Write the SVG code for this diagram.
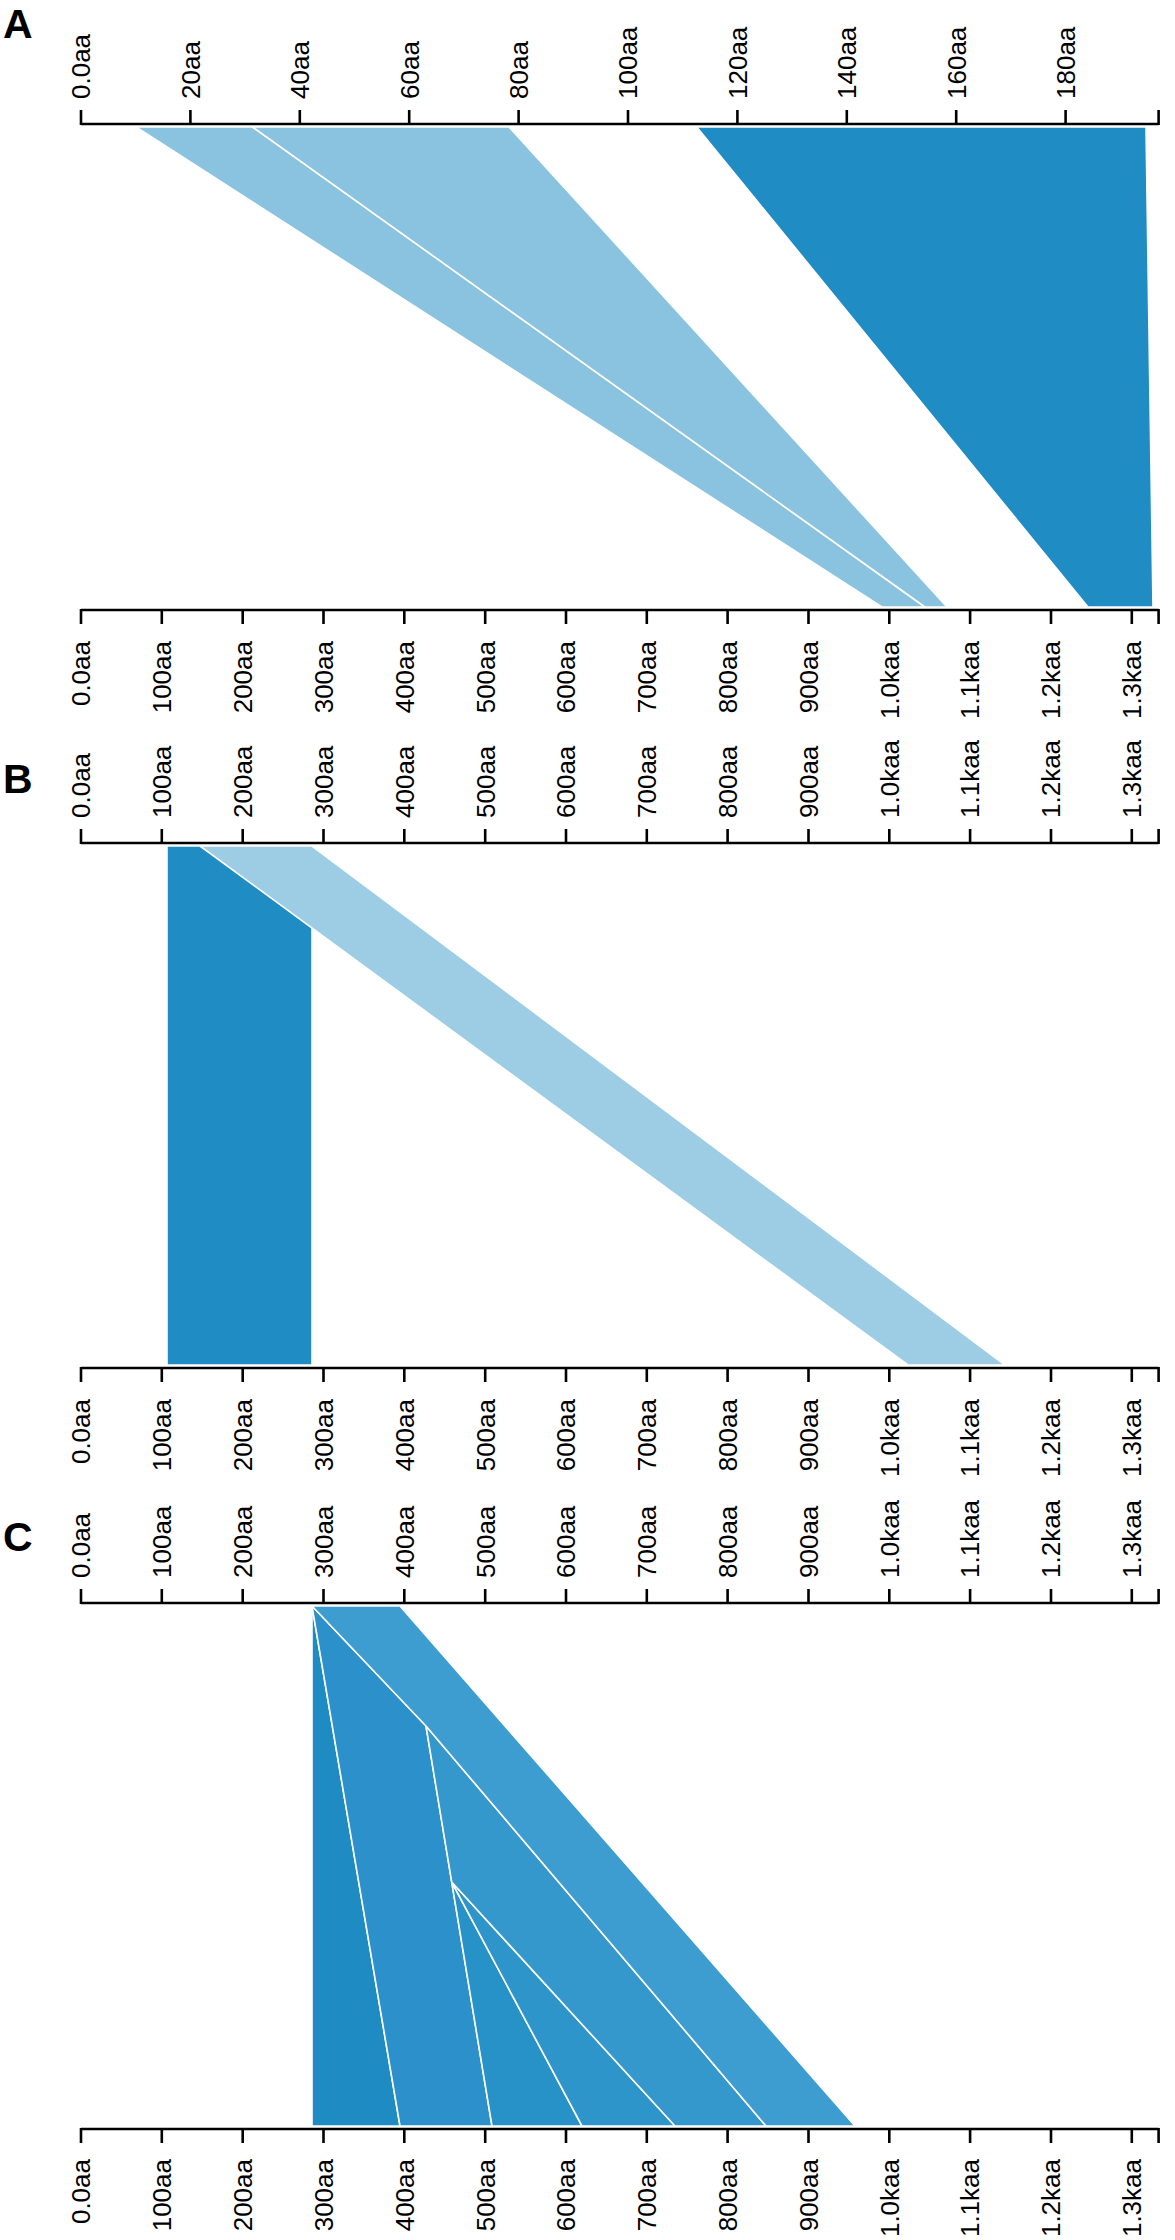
<svg xmlns="http://www.w3.org/2000/svg" width="1175" height="2240" viewBox="0 0 1175 2240">
<style>
.ax{stroke:#000;stroke-width:2.6;fill:none}
.l{font-family:"Liberation Sans",Arial,sans-serif;font-size:26px;fill:#000}
.t{text-anchor:start}
.b{text-anchor:end}
.pl{font-family:"Liberation Sans",Arial,sans-serif;font-size:41px;font-weight:bold;fill:#000}
.seg{stroke:#fff;stroke-width:1.6;stroke-linejoin:round}
</style>
<rect width="1175" height="2240" fill="#fff"/>

<!-- Panel A -->
<g id="panelA">
<text class="pl" x="3" y="38">A</text>
<g id="A-top-axis">
<path class="ax" d="M81,124H1158.6M81,110V125M190.4,110V125M299.8,110V125M409.2,110V125M518.6,110V125M628,110V125M737.4,110V125M846.8,110V125M956.2,110V125M1065.6,110V125M1158.6,110V125"/>
<g class="l t">
<text transform="translate(90.3,99) rotate(-90)">0.0aa</text>
<text transform="translate(199.7,99) rotate(-90)">20aa</text>
<text transform="translate(309.1,99) rotate(-90)">40aa</text>
<text transform="translate(418.5,99) rotate(-90)">60aa</text>
<text transform="translate(527.9,99) rotate(-90)">80aa</text>
<text transform="translate(637.3,99) rotate(-90)">100aa</text>
<text transform="translate(746.7,99) rotate(-90)">120aa</text>
<text transform="translate(856.1,99) rotate(-90)">140aa</text>
<text transform="translate(965.5,99) rotate(-90)">160aa</text>
<text transform="translate(1074.9,99) rotate(-90)">180aa</text>
</g>
</g>
<g id="A-bottom-axis">
<path class="ax" d="M81,610H1158.6M81,609V624M161.8,609V624M242.7,609V624M323.5,609V624M404.3,609V624M485.2,609V624M566,609V624M646.8,609V624M727.6,609V624M808.5,609V624M889.3,609V624M970.1,609V624M1051,609V624M1131.8,609V624M1158.6,609V624"/>
<g class="l b">
<text transform="translate(90.3,641) rotate(-90)">0.0aa</text>
<text transform="translate(171.1,641) rotate(-90)">100aa</text>
<text transform="translate(252,641) rotate(-90)">200aa</text>
<text transform="translate(332.8,641) rotate(-90)">300aa</text>
<text transform="translate(413.6,641) rotate(-90)">400aa</text>
<text transform="translate(494.5,641) rotate(-90)">500aa</text>
<text transform="translate(575.3,641) rotate(-90)">600aa</text>
<text transform="translate(656.1,641) rotate(-90)">700aa</text>
<text transform="translate(736.9,641) rotate(-90)">800aa</text>
<text transform="translate(817.8,641) rotate(-90)">900aa</text>
<text transform="translate(898.6,641) rotate(-90)">1.0kaa</text>
<text transform="translate(979.4,641) rotate(-90)">1.1kaa</text>
<text transform="translate(1060.3,641) rotate(-90)">1.2kaa</text>
<text transform="translate(1141.1,641) rotate(-90)">1.3kaa</text>
</g>
</g>
<g id="A-links">
<polygon class="seg" fill="#8ac3e0" points="136,127 252.6,127 925,607 882,607"/>
<polygon class="seg" fill="#8ac3e0" points="252.6,127 509,127 947,607 925,607"/>
<polygon class="seg" fill="#1f8cc4" points="696.7,127 1146,127 1153,607 1088,607"/>
</g>
</g>

<!-- Panel B -->
<g id="panelB">
<text class="pl" x="3" y="793">B</text>
<g id="B-top-axis">
<path class="ax" d="M81,843H1158.6M81,829V844M161.8,829V844M242.7,829V844M323.5,829V844M404.3,829V844M485.2,829V844M566,829V844M646.8,829V844M727.6,829V844M808.5,829V844M889.3,829V844M970.1,829V844M1051,829V844M1131.8,829V844M1158.6,829V844"/>
<g class="l t">
<text transform="translate(90.3,818) rotate(-90)">0.0aa</text>
<text transform="translate(171.1,818) rotate(-90)">100aa</text>
<text transform="translate(252,818) rotate(-90)">200aa</text>
<text transform="translate(332.8,818) rotate(-90)">300aa</text>
<text transform="translate(413.6,818) rotate(-90)">400aa</text>
<text transform="translate(494.5,818) rotate(-90)">500aa</text>
<text transform="translate(575.3,818) rotate(-90)">600aa</text>
<text transform="translate(656.1,818) rotate(-90)">700aa</text>
<text transform="translate(736.9,818) rotate(-90)">800aa</text>
<text transform="translate(817.8,818) rotate(-90)">900aa</text>
<text transform="translate(898.6,818) rotate(-90)">1.0kaa</text>
<text transform="translate(979.4,818) rotate(-90)">1.1kaa</text>
<text transform="translate(1060.3,818) rotate(-90)">1.2kaa</text>
<text transform="translate(1141.1,818) rotate(-90)">1.3kaa</text>
</g>
</g>
<g id="B-bottom-axis">
<path class="ax" d="M81,1368H1158.6M81,1367V1382M161.8,1367V1382M242.7,1367V1382M323.5,1367V1382M404.3,1367V1382M485.2,1367V1382M566,1367V1382M646.8,1367V1382M727.6,1367V1382M808.5,1367V1382M889.3,1367V1382M970.1,1367V1382M1051,1367V1382M1131.8,1367V1382M1158.6,1367V1382"/>
<g class="l b">
<text transform="translate(90.3,1399) rotate(-90)">0.0aa</text>
<text transform="translate(171.1,1399) rotate(-90)">100aa</text>
<text transform="translate(252,1399) rotate(-90)">200aa</text>
<text transform="translate(332.8,1399) rotate(-90)">300aa</text>
<text transform="translate(413.6,1399) rotate(-90)">400aa</text>
<text transform="translate(494.5,1399) rotate(-90)">500aa</text>
<text transform="translate(575.3,1399) rotate(-90)">600aa</text>
<text transform="translate(656.1,1399) rotate(-90)">700aa</text>
<text transform="translate(736.9,1399) rotate(-90)">800aa</text>
<text transform="translate(817.8,1399) rotate(-90)">900aa</text>
<text transform="translate(898.6,1399) rotate(-90)">1.0kaa</text>
<text transform="translate(979.4,1399) rotate(-90)">1.1kaa</text>
<text transform="translate(1060.3,1399) rotate(-90)">1.2kaa</text>
<text transform="translate(1141.1,1399) rotate(-90)">1.3kaa</text>
</g>
</g>
<g id="B-links">
<polygon class="seg" fill="#1f8cc4" points="167,846 312,846 312,1365 167,1365"/>
<polygon class="seg" fill="#9ccde5" points="200,846 312,846 1005,1365 908,1365"/>
</g>
</g>

<!-- Panel C -->
<g id="panelC">
<text class="pl" x="3" y="1551">C</text>
<g id="C-top-axis">
<path class="ax" d="M81,1603H1158.6M81,1589V1604M161.8,1589V1604M242.7,1589V1604M323.5,1589V1604M404.3,1589V1604M485.2,1589V1604M566,1589V1604M646.8,1589V1604M727.6,1589V1604M808.5,1589V1604M889.3,1589V1604M970.1,1589V1604M1051,1589V1604M1131.8,1589V1604M1158.6,1589V1604"/>
<g class="l t">
<text transform="translate(90.3,1578) rotate(-90)">0.0aa</text>
<text transform="translate(171.1,1578) rotate(-90)">100aa</text>
<text transform="translate(252,1578) rotate(-90)">200aa</text>
<text transform="translate(332.8,1578) rotate(-90)">300aa</text>
<text transform="translate(413.6,1578) rotate(-90)">400aa</text>
<text transform="translate(494.5,1578) rotate(-90)">500aa</text>
<text transform="translate(575.3,1578) rotate(-90)">600aa</text>
<text transform="translate(656.1,1578) rotate(-90)">700aa</text>
<text transform="translate(736.9,1578) rotate(-90)">800aa</text>
<text transform="translate(817.8,1578) rotate(-90)">900aa</text>
<text transform="translate(898.6,1578) rotate(-90)">1.0kaa</text>
<text transform="translate(979.4,1578) rotate(-90)">1.1kaa</text>
<text transform="translate(1060.3,1578) rotate(-90)">1.2kaa</text>
<text transform="translate(1141.1,1578) rotate(-90)">1.3kaa</text>
</g>
</g>
<g id="C-bottom-axis">
<path class="ax" d="M81,2129H1158.6M81,2128V2143M161.8,2128V2143M242.7,2128V2143M323.5,2128V2143M404.3,2128V2143M485.2,2128V2143M566,2128V2143M646.8,2128V2143M727.6,2128V2143M808.5,2128V2143M889.3,2128V2143M970.1,2128V2143M1051,2128V2143M1131.8,2128V2143M1158.6,2128V2143"/>
<g class="l b">
<text transform="translate(90.3,2159) rotate(-90)">0.0aa</text>
<text transform="translate(171.1,2159) rotate(-90)">100aa</text>
<text transform="translate(252,2159) rotate(-90)">200aa</text>
<text transform="translate(332.8,2159) rotate(-90)">300aa</text>
<text transform="translate(413.6,2159) rotate(-90)">400aa</text>
<text transform="translate(494.5,2159) rotate(-90)">500aa</text>
<text transform="translate(575.3,2159) rotate(-90)">600aa</text>
<text transform="translate(656.1,2159) rotate(-90)">700aa</text>
<text transform="translate(736.9,2159) rotate(-90)">800aa</text>
<text transform="translate(817.8,2159) rotate(-90)">900aa</text>
<text transform="translate(898.6,2159) rotate(-90)">1.0kaa</text>
<text transform="translate(979.4,2159) rotate(-90)">1.1kaa</text>
<text transform="translate(1060.3,2159) rotate(-90)">1.2kaa</text>
<text transform="translate(1141.1,2159) rotate(-90)">1.3kaa</text>
</g>
</g>
<g id="C-links">
<polygon class="seg" fill="#1e8bc3" points="312,1606 400,2126 312,2126"/>
<polygon class="seg" fill="#2c90ca" points="312,1606 426,1726 492,2126 400,2126"/>
<polygon class="seg" fill="#2792c7" points="451.7,1882 582,2126 492,2126"/>
<polygon class="seg" fill="#2e95ca" points="451.7,1882 675,2126 582,2126"/>
<polygon class="seg" fill="#3498cc" points="426,1726 766,2126 675,2126 451.7,1882"/>
<polygon class="seg" fill="#3e9dd0" points="312,1606 400,1606 855,2126 766,2126 426,1726"/>
</g>
</g>
</svg>
